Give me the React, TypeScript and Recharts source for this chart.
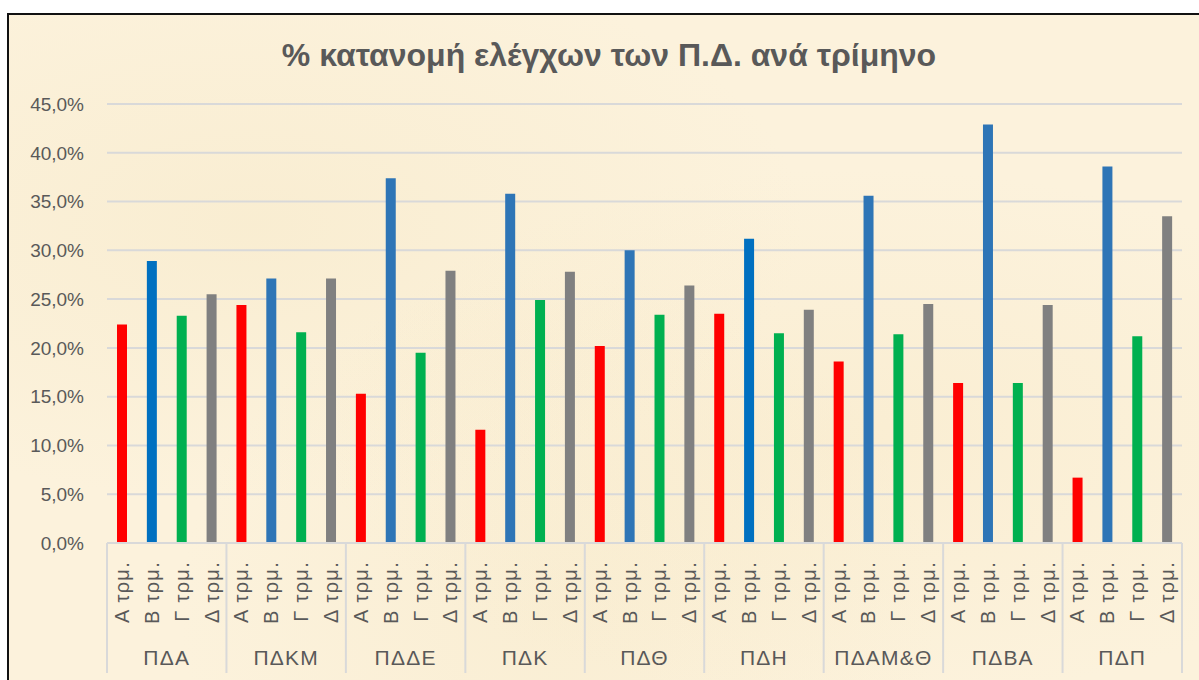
import { BarChart, Bar, XAxis, YAxis, CartesianGrid, Cell } from "recharts"

const GROUPS = ["ΠΔΑ", "ΠΔΚΜ", "ΠΔΔΕ", "ΠΔΚ", "ΠΔΘ", "ΠΔΗ", "ΠΔΑΜ&Θ", "ΠΔΒΑ", "ΠΔΠ"]
const QUARTERS = ["Α τρμ.", "Β τρμ.", "Γ τρμ.", "Δ τρμ."]

// % per quarter, one array per region (Α, Β, Γ, Δ)
const PDA = [22.4, 28.9, 23.3, 25.5]
const PDKM = [24.4, 27.1, 21.6, 27.1]
const PDDE = [15.3, 37.4, 19.5, 27.9]
const PDK = [11.6, 35.8, 24.9, 27.8]
const PDTH = [20.2, 30.0, 23.4, 26.4]
const PDI = [23.5, 31.2, 21.5, 23.9]
const PDAMTH = [18.6, 35.6, 21.4, 24.5]
const PDVA = [16.4, 42.9, 16.4, 24.4]
const PDP = [6.7, 38.6, 21.2, 33.5]

const VALUES = [PDA, PDKM, PDDE, PDK, PDTH, PDI, PDAMTH, PDVA, PDP]
const Y_TICKS = [0, 5, 10, 15, 20, 25, 30, 35, 40, 45]

const QUARTER_COLORS = ["#FF0000", "#2E75B6", "#00B050", "#808080"]
// a couple of Β bars are a brighter blue in the original
const BRIGHT_BLUE = ["ΠΔΑ", "ΠΔΗ"]

const data = GROUPS.flatMap((g, gi) =>
  QUARTERS.map((q, qi) => ({
    key: `${g}-${qi}`,
    group: g,
    quarter: q,
    value: VALUES[gi][qi],
  }))
)

const W = 1199
const H = 680
const PLOT_LEFT = 107
const PLOT_RIGHT = 1182
const BAND = (PLOT_RIGHT - PLOT_LEFT) / data.length
const TEXT = "#595959"
const GRID = "#D9D9D9"
const FONT = "Liberation Sans, Arial, sans-serif"

function QuarterTick(props: any) {
  const { x, y, payload } = props
  const idx = payload.index
  const row = data[idx]
  if (!row) return null
  const qi = idx % 4
  return (
    <g>
      <text
        transform={`translate(${x + 7},${y + 10}) rotate(-90)`}
        textAnchor="end"
        fill={TEXT}
        fontSize={20}
        letterSpacing={1.3}
        fontFamily={FONT}
      >
        {row.quarter}
      </text>
      {qi === 0 && (
        <>
          <line x1={x - BAND / 2} x2={x - BAND / 2} y1={y - 8} y2={y + 122} stroke={GRID} strokeWidth={2} />
          <text
            x={x + BAND * 1.5}
            y={y + 114}
            textAnchor="middle"
            fill={TEXT}
            fontSize={21}
            letterSpacing={1.2}
            fontFamily={FONT}
          >
            {row.group}
          </text>
        </>
      )}
      {idx === data.length - 1 && (
        <line x1={x + BAND / 2} x2={x + BAND / 2} y1={y - 8} y2={y + 122} stroke={GRID} strokeWidth={2} />
      )}
    </g>
  )
}

export default function App() {
  return (
    <div
      style={{
        position: "absolute",
        left: 0,
        top: 0,
        width: W,
        height: H,
        overflow: "hidden",
        background: "#fff",
      }}
    >
      <div
        style={{
          position: "absolute",
          left: 7,
          top: 13,
          width: 1220,
          height: 700,
          border: "2px solid #111",
          background:
            "radial-gradient(ellipse at 20% 30%, rgba(242,226,185,0.3), transparent 40%)," +
            "radial-gradient(ellipse at 70% 60%, rgba(245,228,188,0.3), transparent 45%)," +
            "radial-gradient(ellipse at 45% 85%, rgba(242,226,186,0.25), transparent 40%)," +
            "#FCF2DC",
        }}
      />
      <div
        style={{
          position: "absolute",
          left: 0,
          width: 1218,
          top: 36,
          textAlign: "center",
          fontFamily: FONT,
          fontWeight: "bold",
          fontSize: 32,
          lineHeight: "38px",
          color: TEXT,
        }}
      >
        % κατανομή ελέγχων των Π.Δ. ανά τρίμηνο
      </div>
      <div style={{ position: "absolute", left: 0, top: 0 }}>
        <BarChart
          width={W}
          height={H}
          data={data}
          margin={{ top: 104, right: W - PLOT_RIGHT, bottom: 7, left: 0 }}
          barCategoryGap={10}
        >
          <CartesianGrid vertical={false} stroke={GRID} strokeWidth={2} />
          <XAxis
            dataKey="key"
            interval={0}
            height={130}
            tickLine={false}
            axisLine={{ stroke: GRID, strokeWidth: 2 }}
            tick={<QuarterTick />}
          />
          <YAxis
            width={PLOT_LEFT}
            domain={[0, 45]}
            ticks={Y_TICKS}
            tickLine={false}
            axisLine={false}
            tickMargin={17}
            tickFormatter={(v: number) => `${v.toFixed(1).replace(".", ",")}%`}
            tick={{ fill: TEXT, fontSize: 19, fontFamily: FONT }}
          />
          <Bar dataKey="value" isAnimationActive={false} barSize={10}>
            {data.map((d, i) => (
              <Cell
                key={d.key}
                fill={i % 4 === 1 && BRIGHT_BLUE.includes(d.group) ? "#0070C0" : QUARTER_COLORS[i % 4]}
              />
            ))}
          </Bar>
        </BarChart>
      </div>
    </div>
  )
}
